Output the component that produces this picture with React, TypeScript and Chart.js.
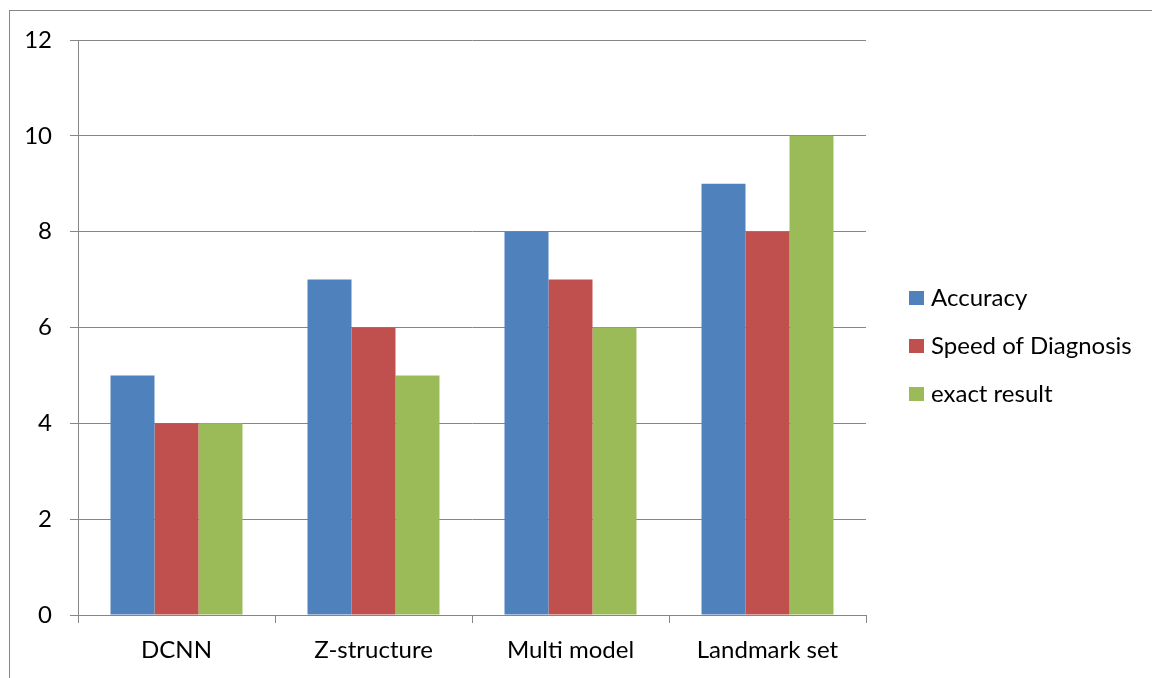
import React, { useEffect, useRef } from "react";
import { Chart, registerables } from "chart.js";

Chart.register(...registerables);

const categories = ["DCNN", "Z-structure", "Multi model", "Landmark set"];
const accuracy = [5, 7, 8, 9];
const speedOfDiagnosis = [4, 6, 7, 8];
const exactResult = [4, 5, 6, 10];
const seriesNames = ["Accuracy", "Speed of Diagnosis", "exact result"];
const seriesColors = ["#4F81BD", "#C0504D", "#9BBB59"];
const yMin = 0;
const yMax = 12;
const yStep = 2;

const FONT_FAMILY = "Lato, 'Open Sans', sans-serif";
const FONT_SIZE = 24;
const GRID = "#868686";

const framePlugin = {
  id: "frame",
  beforeDraw(chart: any) {
    const ctx = chart.ctx;
    ctx.save();
    ctx.fillStyle = "#ffffff";
    ctx.fillRect(0, 0, chart.width, chart.height);
    ctx.strokeStyle = GRID;
    ctx.lineWidth = 1;
    ctx.strokeRect(9.5, 10.5, chart.width + 50, chart.height + 50);
    ctx.restore();
  },
};

const legendPlugin = {
  id: "customLegend",
  afterDraw(chart: any) {
    const ctx = chart.ctx;
    ctx.save();
    ctx.font = `${FONT_SIZE}px ${FONT_FAMILY}`;
    ctx.textBaseline = "middle";
    ctx.textAlign = "left";
    chart.data.datasets.forEach((ds: any, i: number) => {
      const cy = 298 + 48 * i;
      ctx.fillStyle = ds.backgroundColor;
      ctx.fillRect(909, cy - 7, 15, 14);
      ctx.fillStyle = "#000000";
      ctx.fillText(ds.label, 931, cy);
    });
    ctx.restore();
  },
};

export default function App() {
  const ref = useRef<HTMLCanvasElement | null>(null);

  useEffect(() => {
    if (!ref.current) return;
    const values = [accuracy, speedOfDiagnosis, exactResult];
    const chart = new Chart(ref.current, {
      type: "bar",
      data: {
        labels: categories,
        datasets: seriesNames.map((name, i) => ({
          label: name,
          data: values[i],
          backgroundColor: seriesColors[i],
          borderWidth: 0,
          categoryPercentage: 0.67,
          barPercentage: 1.0,
        })),
      },
      options: {
        responsive: false,
        animation: false,
        devicePixelRatio: 1,
        layout: { padding: { left: 0, top: 40, right: 286, bottom: 0 } },
        plugins: {
          legend: { display: false },
          tooltip: { enabled: false },
          title: { display: false },
        },
        scales: {
          x: {
            type: "category",
            offset: true,
            grid: {
              offset: true,
              drawOnChartArea: false,
              drawTicks: true,
              tickLength: 8,
              color: GRID,
            },
            border: { color: GRID, width: 1 },
            ticks: {
              color: "#000000",
              font: { family: FONT_FAMILY, size: FONT_SIZE },
              padding: 13,
              maxRotation: 0,
            },
            afterFit: (s: any) => {
              s.height = 63;
            },
          },
          y: {
            min: yMin,
            max: yMax,
            grid: {
              color: GRID,
              drawTicks: true,
              tickLength: 8,
            },
            border: { color: GRID, width: 1 },
            ticks: {
              stepSize: yStep,
              color: "#000000",
              font: { family: FONT_FAMILY, size: FONT_SIZE },
              padding: 18,
            },
            afterFit: (s: any) => {
              s.width = 78;
            },
          },
        },
      },
      plugins: [framePlugin, legendPlugin],
    });
    return () => chart.destroy();
  }, []);

  return (
    <div style={{ position: "absolute", left: 0, top: 0, width: 1152, height: 678 }}>
      <canvas ref={ref} width={1152} height={678} style={{ display: "block", width: 1152, height: 678 }} />
    </div>
  );
}
